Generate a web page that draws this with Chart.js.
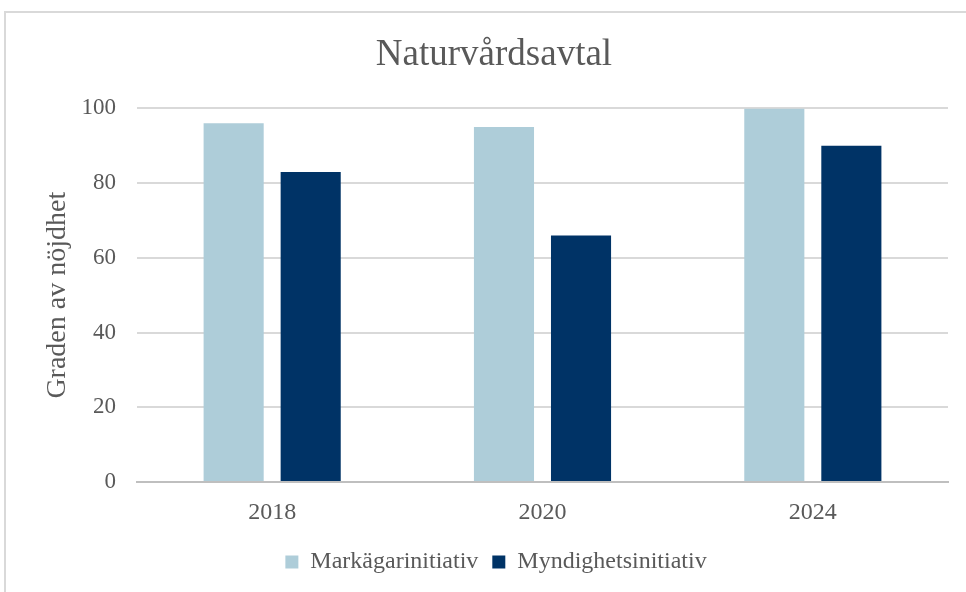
<!DOCTYPE html>
<html>
<head>
<meta charset="utf-8">
<script src="https://cdn.jsdelivr.net/npm/chart.js@4"></script>
<style>
  html, body { margin: 0; padding: 0; background: #fff; overflow: hidden; }
  #frame { position: absolute; left: 4px; top: 11px; width: 1000px; height: 620px; border: 2px solid #d9d9d9; }
  #wrap { position: absolute; left: 0; top: 0; width: 966px; height: 592px; }
</style>
</head>
<body>
<div id="frame"></div>
<div id="wrap"><canvas id="chart" width="966" height="592"></canvas></div>
<script>
// data
const years = ["2018", "2020", "2024"];
const markagare = [96, 95, 100];
const myndighet = [83, 66, 90];
const seriesNames = ["Markägarinitiativ", "Myndighetsinitiativ"];
const yTicks = [0, 20, 40, 60, 80, 100];

const SERIF = '"Liberation Serif", "Times New Roman", serif';
const GREY = "#595959";

// title and legend sit a little right of the canvas centre in the original
const shiftBoxes = {
  id: "shiftBoxes",
  afterLayout(chart) {
    if (chart.titleBlock) chart.titleBlock.left += 40;
    if (chart.legend) chart.legend.left += 44;
  }
};

new Chart(document.getElementById("chart"), {
  type: "bar",
  data: {
    labels: years,
    datasets: [
      { label: seriesNames[0], data: markagare, backgroundColor: "#aecdd9" },
      { label: seriesNames[1], data: myndighet, backgroundColor: "#003366" }
    ]
  },
  plugins: [shiftBoxes],
  options: {
    responsive: false,
    animation: false,
    categoryPercentage: 0.57,
    barPercentage: 0.78,
    layout: { padding: { left: 0, right: 18, top: 0, bottom: 8 } },
    plugins: {
      title: {
        display: true,
        text: "Naturvårdsavtal",
        color: GREY,
        font: { family: SERIF, size: 37, weight: "normal" },
        padding: { top: 33, bottom: 31 }
      },
      legend: {
        position: "bottom",
        labels: {
          color: GREY,
          font: { family: SERIF, size: 24 },
          boxWidth: 13,
          boxHeight: 13,
          padding: 14
        }
      },
      tooltip: { enabled: false }
    },
    scales: {
      x: {
        grid: { display: false },
        border: { display: true, color: "#bfbfbf", width: 2 },
        ticks: { color: GREY, font: { family: SERIF, size: 24 }, padding: 8 },
        afterFit: (s) => { s.height = 54; }
      },
      y: {
        min: 0,
        max: 100,
        afterBuildTicks: (s) => { s.ticks = yTicks.map((v) => ({ value: v })); },
        grid: {
          drawTicks: false,
          color: (c) => (c.tick && c.tick.value === 0 ? "#bfbfbf" : "#d9d9d9"),
          lineWidth: 2
        },
        border: { display: false },
        ticks: { color: GREY, font: { family: SERIF, size: 23 }, padding: 21 },
        title: {
          display: true,
          text: "Graden av nöjdhet",
          color: GREY,
          font: { family: SERIF, size: 28 },
          padding: { top: 41, bottom: 0 }
        },
        afterFit: (s) => { s.width = 137; }
      }
    }
  }
});
</script>
</body>
</html>
